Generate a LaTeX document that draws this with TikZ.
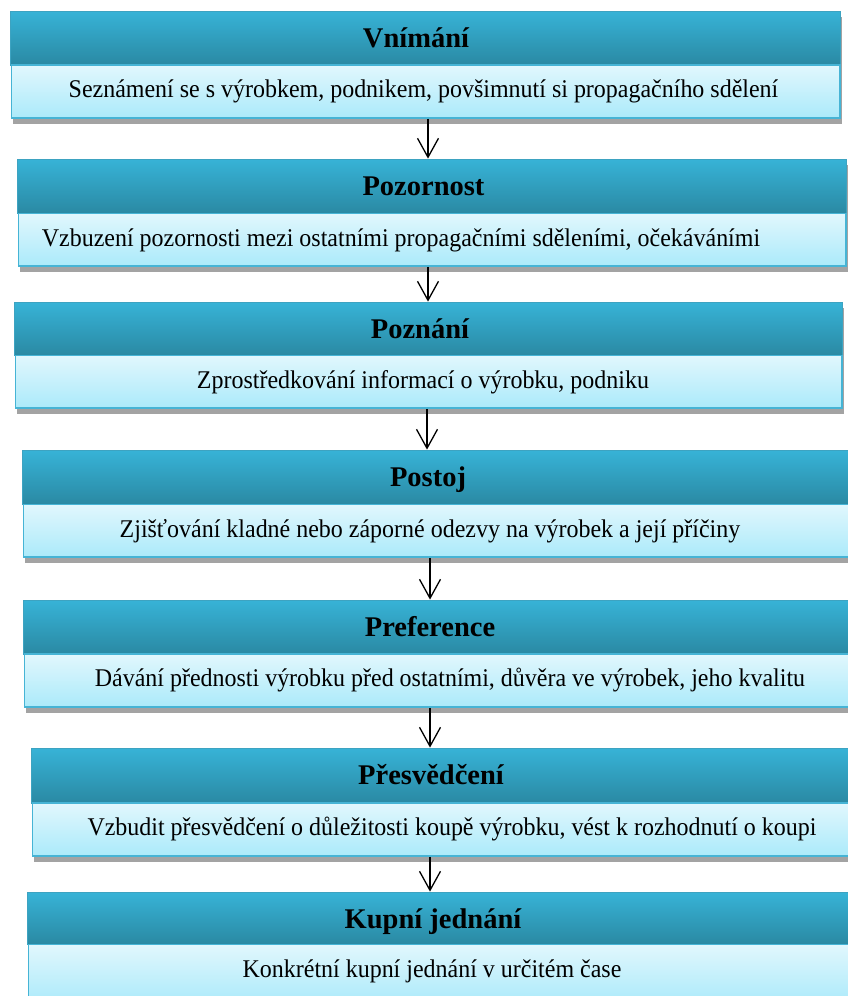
\documentclass[tikz,border=0pt]{standalone}
\usepackage{fontspec}
\setmainfont{Liberation Serif}
\newfontfamily\narrowserif[FakeStretch=0.94]{Liberation Serif}
\usetikzlibrary{arrows.meta,shadows}

\definecolor{headtop}{HTML}{37B3D7}
\definecolor{headbot}{HTML}{2A89A3}
\definecolor{headline}{HTML}{3DA3C1}
\definecolor{bodytop}{HTML}{E1F7FD}
\definecolor{bodybot}{HTML}{ABEAFA}
\definecolor{bodyline}{HTML}{46B4D5}
\definecolor{shadowgray}{HTML}{A3A3A3}

\tikzset{
  boxshadow/.style={drop shadow={shadow xshift=1.5pt,shadow yshift=-6pt,fill=shadowgray,opacity=1}},
  headbox/.style={boxshadow,rectangle,inner sep=0pt,top color=headtop,bottom color=headbot,draw=headline,line width=0.8pt},
  bodybox/.style={boxshadow,rectangle,inner sep=0pt,top color=bodytop,bottom color=bodybot,draw=bodyline,line width=1.5pt},
  titletext/.style={anchor=base,inner sep=0pt,font=\fontsize{28.5}{30}\selectfont\bfseries},
  bodytext/.style={anchor=base,inner sep=0pt,font=\narrowserif\fontsize{25.5}{27}\selectfont},
  flow/.style={line width=1.3pt,-{Straight Barb[length=19pt,width=21pt,line width=1.3pt]}}
}

% \stage{n}{left}{right}{header top}{split}{body bottom}{title x}{title}{text x}{text}
\newcommand\stage[9]{%
  \node[headbox,minimum width={#3-#2},minimum height={#5-#4}] (h#1) at ({(#2+#3)/2},{(#4+#5)/2}) {};
  \node[bodybox,minimum width={#3-#2-1.5},minimum height={#6-#5}] (b#1) at ({(#2+#3)/2+0.75},{(#5+#6)/2}) {};
  \node[titletext] (t#1) at (#7,{#4+36}) {#8};
  \stagetext{#1}{#5}{#9}%
}
\newcommand\stagetext[3]{\def\stagenum{#1}\def\stagesplit{#2}\def\stagex{#3}\stagebody}
\newcommand\stagebody[1]{\node[bodytext] (d\stagenum) at (\stagex,{\stagesplit+32.5}) {#1};}

\begin{document}
\begin{tikzpicture}[x=1pt,y=-1pt]
  \useasboundingbox (0,0) rectangle (847,996);

  \stage{1}{10}{840}{11}{65}{118}{416}{Vnímání}{423.5}{Seznámení se s výrobkem, podnikem, povšimnutí si propagačního sdělení}
  \stage{2}{17}{846}{159}{213.5}{266}{423.5}{Pozornost}{401}{Vzbuzení pozornosti mezi ostatními propagačními sděleními, očekáváními}
  \stage{3}{14}{842}{302}{355.5}{408}{420}{Poznání}{423}{Zprostředkování informací o výrobku, podniku}
  \stage{4}{22}{850}{450}{504.5}{557}{428}{Postoj}{430}{Zjišťování kladné nebo záporné odezvy na výrobek a její příčiny}
  \stage{5}{23}{850}{600}{654}{707}{430}{Preference}{450}{Dávání přednosti výrobku před ostatními, důvěra ve výrobek, jeho kvalitu}
  \stage{6}{31}{850}{748}{803}{856}{431}{Přesvědčení}{452}{Vzbudit přesvědčení o důležitosti koupě výrobku, vést k rozhodnutí o koupi}
  \stage{7}{27}{850}{892}{944.5}{1004}{433}{Kupní jednání}{432}{Konkrétní kupní jednání v určitém čase}

  % columns of the connecting arrows
  \coordinate (c1) at (428,0);
  \coordinate (c2) at (428,0);
  \coordinate (c3) at (427,0);
  \coordinate (c4) at (430,0);
  \coordinate (c5) at (430,0);
  \coordinate (c6) at (430,0);

  \draw[flow] (b1.south -| c1) -- (h2.north -| c1);
  \draw[flow] (b2.south -| c2) -- (h3.north -| c2);
  \draw[flow] (b3.south -| c3) -- (h4.north -| c3);
  \draw[flow] (b4.south -| c4) -- (h5.north -| c4);
  \draw[flow] (b5.south -| c5) -- (h6.north -| c5);
  \draw[flow] (b6.south -| c6) -- (h7.north -| c6);
\end{tikzpicture}
\end{document}
